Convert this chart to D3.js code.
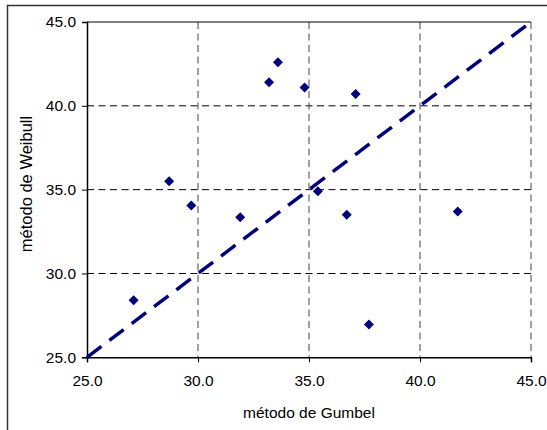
<!DOCTYPE html>
<html><head><meta charset="utf-8">
<script src="https://cdn.jsdelivr.net/npm/d3@7"></script>
<style>body{margin:0;background:#fff;}svg{display:block;font-family:"Liberation Sans",Arial,sans-serif;}</style>
</head><body>
<script>
const gumbel  = [27.1, 28.7, 29.7, 31.9, 33.2, 33.6, 34.8, 35.4, 36.7, 37.1, 37.7, 41.7];
const weibull = [28.4, 35.5, 34.05, 33.35, 41.4, 42.6, 41.1, 34.9, 33.5, 40.7, 26.95, 33.7];
const xTicks = [25, 30, 35, 40, 45];
const yTicks = [25, 30, 35, 40, 45];
const lineVals = [25, 45];
const xTitle = "método de Gumbel";
const yTitle = "método de Weibull";

const W = 547, H = 430;
const m = {l: 87, t: 22, r: 531, b: 357.3};
const svg = d3.select("body").append("svg").attr("width", W).attr("height", H);
svg.append("rect").attr("x", 7.5).attr("y", 5.5).attr("width", 560).attr("height", 440)
  .attr("fill", "#fff").attr("stroke", "#333").attr("stroke-width", 1.5);

const x = d3.scaleLinear().domain([25, 45]).range([m.l, m.r]);
const y = d3.scaleLinear().domain([25, 45]).range([m.b, m.t]);

// grid
svg.append("g").selectAll("line").data(yTicks.slice(1, 4)).join("line")
  .attr("x1", m.l).attr("x2", m.r).attr("y1", d => y(d)).attr("y2", d => y(d))
  .attr("stroke", "#000").attr("stroke-dasharray", "7,4.5").attr("stroke-width", 1);
svg.append("g").selectAll("line").data(xTicks.slice(1)).join("line")
  .attr("y1", m.t).attr("y2", m.b).attr("x1", d => x(d)).attr("x2", d => x(d))
  .attr("stroke", "#444").attr("stroke-dasharray", "7,4.5").attr("stroke-width", 1);
// top border
svg.append("line").attr("x1", m.l).attr("x2", m.r).attr("y1", m.t).attr("y2", m.t)
  .attr("stroke", "#000").attr("stroke-width", 1);

// axes
const fmt = d3.format(".1f");
const gx = svg.append("g").attr("transform", `translate(0,${m.b})`)
  .call(d3.axisBottom(x).tickValues(xTicks).tickFormat(fmt).tickSize(5).tickPadding(13));
const gy = svg.append("g").attr("transform", `translate(${m.l},0)`)
  .call(d3.axisLeft(y).tickValues(yTicks).tickFormat(fmt).tickSize(5).tickPadding(6));
[gx, gy].forEach(g => {
  g.select(".domain").attr("stroke", "#000").attr("stroke-width", 1.5);
  g.selectAll(".tick line").attr("stroke", "#000");
  g.selectAll("text").attr("font-size", 15.5).attr("fill", "#000")
    .attr("font-family", '"Liberation Sans",Arial,sans-serif');
});

// diagonal
svg.append("line").attr("x1", x(lineVals[0])).attr("y1", y(lineVals[0]))
  .attr("x2", x(lineVals[1])).attr("y2", y(lineVals[1]))
  .attr("stroke", "#000080").attr("stroke-width", 3.5).attr("stroke-dasharray", "18,10");

// points
const diamond = d3.symbol().type(d3.symbolSquare).size(50);
svg.append("g").selectAll("path").data(gumbel.map((g, i) => [g, weibull[i]])).join("path")
  .attr("d", diamond)
  .attr("transform", d => `translate(${x(d[0])},${y(d[1])}) rotate(45)`)
  .attr("fill", "#000080");

// titles
svg.append("text").attr("x", (m.l + m.r) / 2).attr("y", 418).attr("text-anchor", "middle")
  .attr("font-size", 15.5).text(xTitle);
svg.append("text").attr("transform", `translate(32,184) rotate(-90)`)
  .attr("text-anchor", "middle").attr("font-size", 16.5).text(yTitle);
</script>
</body></html>
